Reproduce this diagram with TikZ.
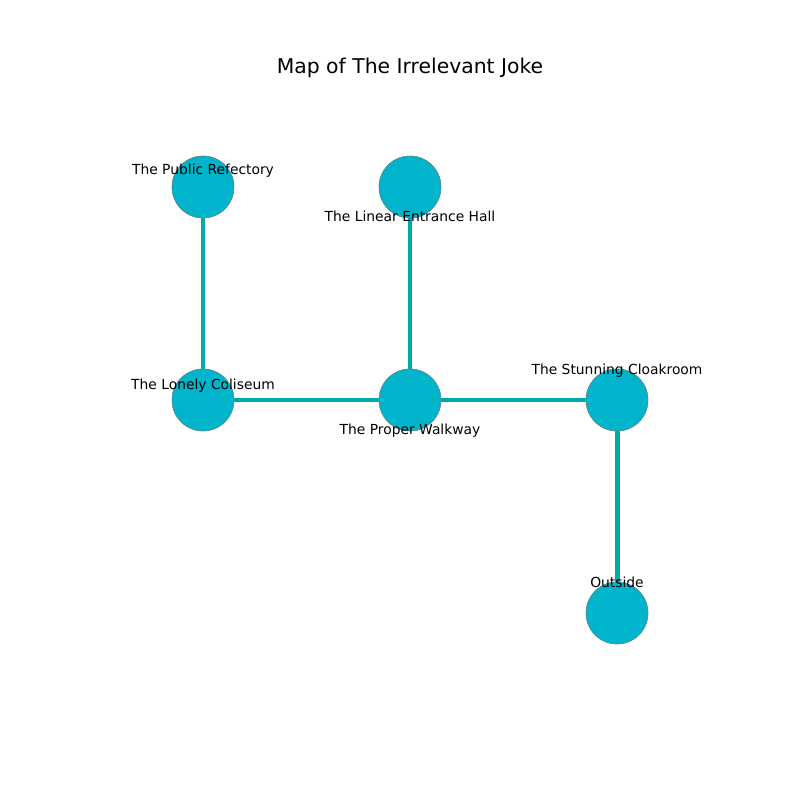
\documentclass[tikz,border=0pt]{standalone}
\usepackage{fontspec}
\setmainfont{DejaVu Sans}
\definecolor{roomfill}{RGB}{0,180,204}
\definecolor{passagecol}{RGB}{0,170,170}
\tikzset{
  room/.style={circle, fill=roomfill, draw=gray, line width=0.3pt, minimum size=0.62in, inner sep=0pt},
  passage/.style={draw=passagecol, line width=3.6pt},
  roomlabel/.style={font=\fontsize{10}{12}\selectfont, inner sep=0pt, anchor=base}
}
\begin{document}
\begin{tikzpicture}[x=0.01in, y=-0.01in]
   \useasboundingbox (0,0) rectangle (800,800);
   % rooms
   \node[room] (refectory) at (203,187) {};
   \node[room] (hall) at (410,187) {};
   \node[room] (coliseum) at (203,400) {};
   \node[room] (walkway) at (410,400) {};
   \node[room] (cloakroom) at (617,400) {};
   \node[room] (outside) at (617,613) {};
   % passages
   \draw[passage] (refectory.center) -- (coliseum.center);
   \draw[passage] (hall.center) -- (walkway.center);
   \draw[passage] (coliseum.center) -- (walkway.center);
   \draw[passage] (walkway.center) -- (cloakroom.center);
   \draw[passage] (cloakroom.center) -- (outside.center);
   % rooms again, above the passages
   \foreach \r in {refectory,hall,coliseum,walkway,cloakroom,outside}
      \node[room] at (\r.center) {};
   % labels
   \node[roomlabel] (refectorytxt) at (203,175) {The Public Refectory};
   \node[roomlabel] (halltxt) at (410,221) {The Linear Entrance Hall};
   \node[roomlabel] (coliseumtxt) at (203,389) {The Lonely Coliseum};
   \node[roomlabel] (walkwaytxt) at (410,434) {The Proper Walkway};
   \node[roomlabel] (cloakroomtxt) at (617,374) {The Stunning Cloakroom};
   \node[roomlabel] (outsidetxt) at (617,587) {Outside};
   \node[font=\fontsize{14.7}{17}\selectfont, inner sep=0pt] (title) at (410,68) {Map of The Irrelevant Joke};
\end{tikzpicture}
\end{document}
